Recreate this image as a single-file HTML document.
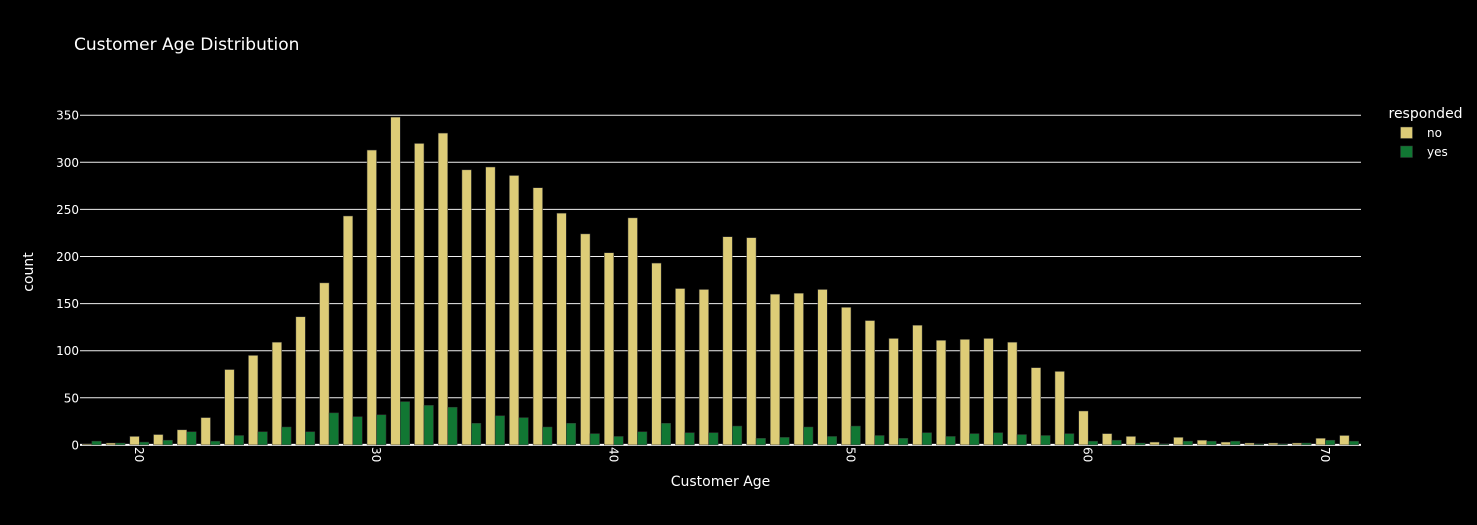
<!DOCTYPE html>
<html lang="en">
<head>
<meta charset="utf-8">
<title>Customer Age Distribution</title>
<style>
html,body{margin:0;padding:0;background:#000;width:1477px;height:525px;overflow:hidden}
svg{display:block}
text{font-family:"DejaVu Sans",sans-serif;fill:#fff}
</style>
</head>
<body>
<svg id="chart" width="1477" height="525" viewBox="0 0 1477 525" xmlns="http://www.w3.org/2000/svg">
  <rect x="0" y="0" width="1477" height="525" fill="#000"/>
  <g id="grid"></g>
  <g id="bars"></g>
  <g id="xticks"></g>
  <g id="yticks"></g>
  <text x="74" y="50" font-size="17">Customer Age Distribution</text>
  <text x="720.5" y="486" font-size="14" text-anchor="middle">Customer Age</text>
  <text transform="translate(33,272) rotate(-90)" font-size="14" text-anchor="middle">count</text>
  <g>
    <text x="1388.5" y="118" font-size="14">responded</text>
    <g>
      <rect x="1400.5" y="127" width="12" height="11.5" fill="#DDCC77" stroke="#333" stroke-width="0.5"/>
      <text x="1427" y="137" font-size="12">no</text>
    </g>
    <g>
      <rect x="1400.5" y="146" width="12" height="11.5" fill="#117733" stroke="#333" stroke-width="0.5"/>
      <text x="1427" y="156" font-size="12">yes</text>
    </g>
  </g>
</svg>
<script>
var ages = [18,19,20,21,22,23,24,25,26,27,28,29,30,31,32,33,34,35,36,37,38,39,40,41,42,43,44,45,46,47,48,49,50,51,52,53,54,55,56,57,58,59,60,61,62,63,64,65,66,67,68,69,70,71];
var noCounts = [1,2,9,11,16,29,80,95,109,136,172,243,313,348,320,331,292,295,286,273,246,224,204,241,193,166,165,221,220,160,161,165,146,132,113,127,111,112,113,109,82,78,36,12,9,3,8,5,3,2,2,2,7,10];
var yesCounts = [4,2,3,5,14,4,10,14,19,14,34,30,32,46,42,40,23,31,29,19,23,12,9,14,23,13,13,20,7,8,19,9,20,10,7,13,9,12,13,11,10,12,4,5,2,1,4,4,4,1,1,2,5,4];
var xTickValues = [20,30,40,50,60,70];
var yTickValues = [0,50,100,150,200,250,300,350];

var NS = 'http://www.w3.org/2000/svg';
var plotLeft = 80, plotRight = 1361, plotBottom = 444.9;
var xMin = 17.5, xMax = 71.5;
var pxPerCount = 0.942;
function xScale(v){ return plotLeft + (v - xMin) / (xMax - xMin) * (plotRight - plotLeft); }
function yScale(v){ return plotBottom - v * pxPerCount; }

var grid = document.getElementById('grid');
var yticks = document.getElementById('yticks');
var xticks = document.getElementById('xticks');
var bars = document.getElementById('bars');

yTickValues.forEach(function(t){
  var y = yScale(t);
  if (t !== 0) {
    var line = document.createElementNS(NS, 'line');
    
    
    line.setAttribute('x1', plotLeft);
    line.setAttribute('x2', plotRight);
    line.setAttribute('y1', y);
    line.setAttribute('y2', y);
    line.setAttribute('stroke', '#f0f0f0');
    line.setAttribute('stroke-width', '1');
    grid.appendChild(line);
  }
  var label = document.createElementNS(NS, 'text');
  
  
  label.setAttribute('x', plotLeft - 1);
  label.setAttribute('y', y + 4.5);
  label.setAttribute('font-size', '12');
  label.setAttribute('text-anchor', 'end');
  label.textContent = t;
  yticks.appendChild(label);
});

xTickValues.forEach(function(t){
  var x = xScale(t);
  var label = document.createElementNS(NS, 'text');
  
  
  label.setAttribute('transform', 'translate(' + (x - 4.5) + ',447) rotate(90)');
  label.setAttribute('font-size', '12');
  label.textContent = t;
  xticks.appendChild(label);
});

var zero = document.createElementNS(NS, 'line');


zero.setAttribute('x1', plotLeft);
zero.setAttribute('x2', plotRight);
zero.setAttribute('y1', plotBottom);
zero.setAttribute('y2', plotBottom);
zero.setAttribute('stroke', '#fff');
zero.setAttribute('stroke-width', '2');
bars.appendChild(zero);

var categoryWidth = xScale(1) - xScale(0);
var barWidth = categoryWidth * 0.4;

function drawBar(age, count, offset, colour, seriesName){
  var rect = document.createElementNS(NS, 'rect');
  
  
  rect.setAttribute('x', xScale(age) + offset);
  rect.setAttribute('y', yScale(count));
  rect.setAttribute('width', barWidth);
  rect.setAttribute('height', plotBottom - yScale(count));
  rect.setAttribute('fill', colour);
  rect.setAttribute('stroke', '#333');
  rect.setAttribute('stroke-width', '0.5');
  bars.appendChild(rect);
}

ages.forEach(function(age, i){
  drawBar(age, noCounts[i], -barWidth, '#DDCC77', 'no');
  drawBar(age, yesCounts[i], 0, '#117733', 'yes');
});
</script>
</body>
</html>
